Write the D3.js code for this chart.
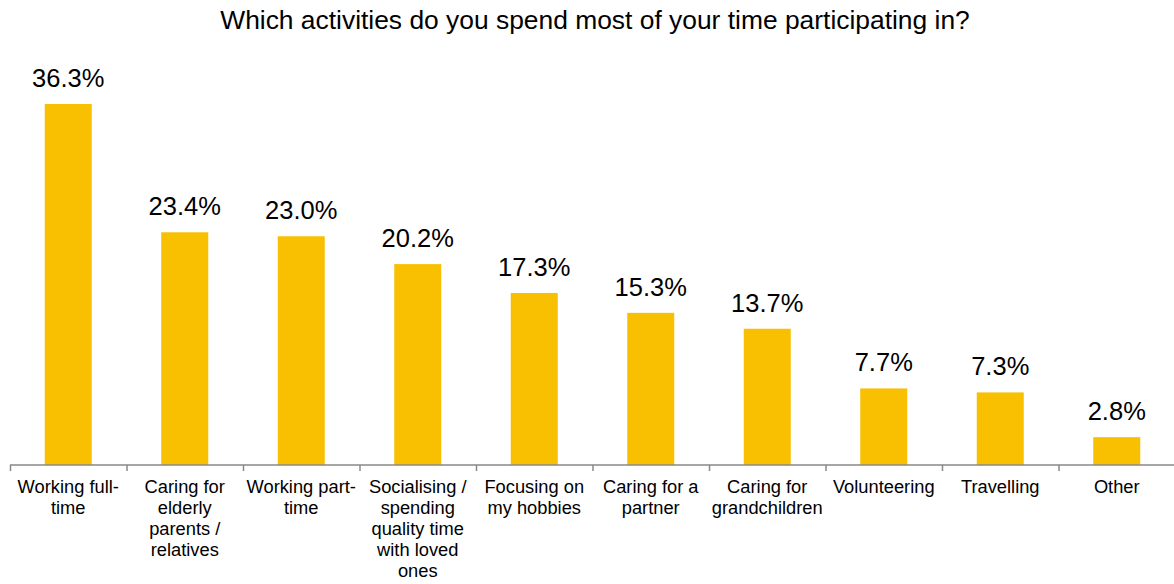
<!DOCTYPE html>
<html>
<head>
<meta charset="utf-8">
<script src="https://cdn.jsdelivr.net/npm/d3@7"></script>
<style>
  body { margin: 0; background: #fff; }
  text { font-family: "Liberation Sans", Arial, sans-serif; fill: #000; }
</style>
</head>
<body>
<div id="chart"></div>
<script>
var categories = [
    "Working full-\ntime",
    "Caring for\nelderly\nparents /\nrelatives",
    "Working part-\ntime",
    "Socialising /\nspending\nquality time\nwith loved\nones",
    "Focusing on\nmy hobbies",
    "Caring for a\npartner",
    "Caring for\ngrandchildren",
    "Volunteering",
    "Travelling",
    "Other"
]
var values = [36.3, 23.4, 23.0, 20.2, 17.3, 15.3, 13.7, 7.7, 7.3, 2.8]
var title = "Which activities do you spend most of your time participating in?"

var W = 1174, H = 584
var axisY = 465

var svg = d3.select("#chart")
    .append("svg")
        .attr("width", W)
        .attr("height", H)

var data = categories.map(function(c, i){ return {cat: c, val: values[i]} })

var x = d3.scaleBand()
    .domain(categories)
    .range([10, 1175])
    .paddingInner(0)
    .paddingOuter(0)

var y = d3.scaleLinear()
    .domain([0, 36.3])
    .range([axisY, 104])

var barW = 47

svg.append("text")
    .attr("x", 595)
    .attr("y", 29)
    .attr("text-anchor", "middle")
    .attr("font-size", "26.4px")
    .text(title)

svg.selectAll(".bar")
    .data(data)
    .enter()
    .append("rect")
        .attr("class", "bar")
        .attr("x", d=> x(d.cat) + x.bandwidth()/2 - barW/2)
        .attr("y", d=> y(d.val))
        .attr("width", barW)
        .attr("height", d=> axisY - y(d.val))
        .attr("fill", "#F8C000")

svg.selectAll(".val-label")
    .data(data)
    .enter()
    .append("text")
        .attr("class", "val-label")
        .attr("x", d=> x(d.cat) + x.bandwidth()/2)
        .attr("y", d=> y(d.val) - 17)
        .attr("text-anchor", "middle")
        .attr("font-size", "25.5px")
        .text(d=> d.val.toFixed(1) + "%")

// axis line + ticks at band edges
svg.append("line")
    .attr("x1", 10)
    .attr("x2", W)
    .attr("y1", axisY)
    .attr("y2", axisY)
    .attr("stroke", "#898989")
    .attr("stroke-width", 1.5)

svg.selectAll(".tick-mark")
    .data(categories)
    .enter()
    .append("line")
        .attr("class", "tick-mark")
        .attr("x1", d=> x(d) + 0.5)
        .attr("x2", d=> x(d) + 0.5)
        .attr("y1", axisY)
        .attr("y2", axisY + 6)
        .attr("stroke", "#898989")
        .attr("stroke-width", 1.5)

var catLabels = svg.selectAll(".cat-label")
    .data(categories)
    .enter()
    .append("text")
        .attr("class", "cat-label")
        .attr("text-anchor", "middle")
        .attr("font-size", "18.3px")

catLabels.each(function(d){
    var lines = d.split("\n")
    var t = d3.select(this)
    lines.forEach(function(line, i){
        t.append("tspan")
            .attr("x", x(d) + x.bandwidth()/2)
            .attr("y", axisY + 28 + i*21)
            .text(line)
    })
})
</script>
</body>
</html>
